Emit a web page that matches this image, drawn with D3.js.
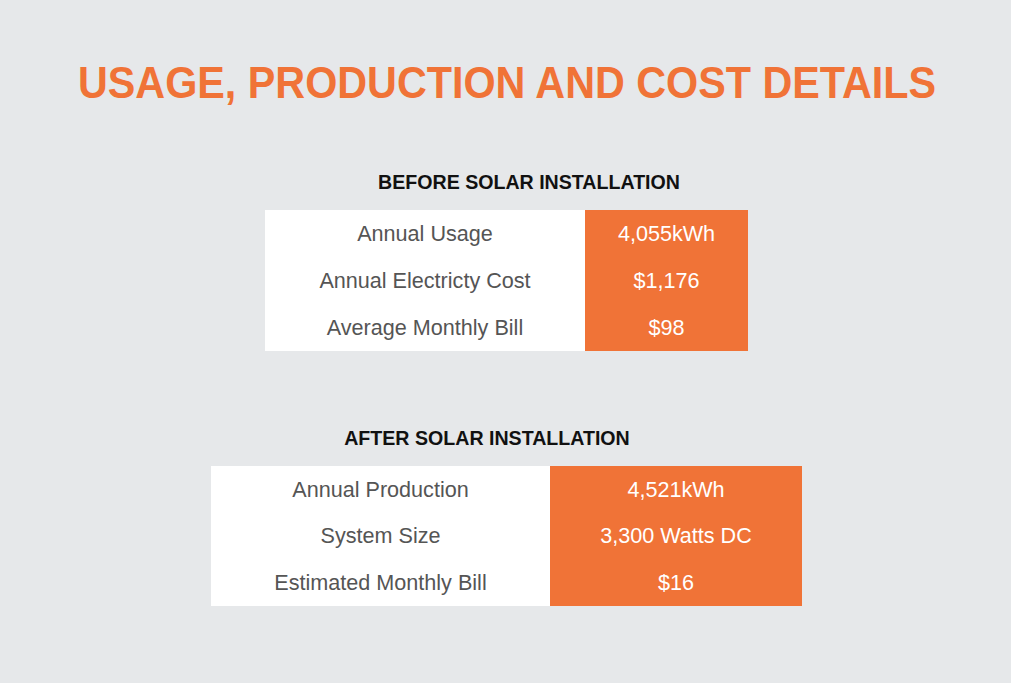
<!DOCTYPE html>
<html>
<head>
<meta charset="utf-8">
<script src="https://cdn.jsdelivr.net/npm/d3@7"></script>
<style>
  html, body { margin: 0; padding: 0; background: #e6e8ea; }
  svg { display: block; font-family: "Liberation Sans", Arial, sans-serif; }
</style>
</head>
<body>
<script>
var title = 'USAGE, PRODUCTION AND COST DETAILS';

var beforeTitle = 'BEFORE SOLAR INSTALLATION';
var beforeLabels = ['Annual Usage', 'Annual Electricty Cost', 'Average Monthly Bill'];
var beforeValues = ['4,055kWh', '$1,176', '$98'];

var afterTitle = 'AFTER SOLAR INSTALLATION';
var afterLabels = ['Annual Production', 'System Size', 'Estimated Monthly Bill'];
var afterValues = ['4,521kWh', '3,300 Watts DC', '$16'];

var width = 1011;
var height = 683;
var orange = '#f07337';

var svg = d3.select('body').append('svg')
  .attr('width', width)
  .attr('height', height);

svg.append('rect')
  .attr('width', width)
  .attr('height', height)
  .attr('fill', '#e6e8ea');

svg.append('text')
  .attr('x', 507)
  .attr('y', 98)
  .attr('text-anchor', 'middle')
  .attr('fill', orange)
  .attr('font-size', 44)
  .attr('font-weight', 'bold')
  .attr('textLength', 858)
  .attr('lengthAdjust', 'spacingAndGlyphs')
  .text(title);

// draw one table block: heading, white label column, orange value column
function drawTable(opts) {
  var rows = d3.range(opts.labels.length);

  var y = d3.scaleBand()
    .domain(rows)
    .range([opts.top, opts.bottom]);

  var g = svg.append('g');

  g.append('text')
    .attr('x', opts.headX)
    .attr('y', opts.top - 21)
    .attr('text-anchor', 'middle')
    .attr('fill', '#111')
    .attr('font-size', 19.6)
    .attr('font-weight', 'bold')
    .text(opts.heading);

  g.append('rect')
    .attr('x', opts.left)
    .attr('y', opts.top)
    .attr('width', opts.split - opts.left)
    .attr('height', opts.bottom - opts.top)
    .attr('fill', '#fff');

  g.append('rect')
    .attr('x', opts.split)
    .attr('y', opts.top)
    .attr('width', opts.right - opts.split)
    .attr('height', opts.bottom - opts.top)
    .attr('fill', orange);

  g.selectAll('text.label')
    .data(rows)
    .enter().append('text')
    .attr('class', 'label')
    .attr('x', (opts.left + opts.split) / 2)
    .attr('y', function (d) { return y(d) + y.bandwidth() / 2; })
    .attr('dy', '0.34em')
    .attr('text-anchor', 'middle')
    .attr('fill', '#555')
    .attr('font-size', 21.6)
    .text(function (d) { return opts.labels[d]; });

  g.selectAll('text.value')
    .data(rows)
    .enter().append('text')
    .attr('class', 'value')
    .attr('x', (opts.split + opts.right) / 2)
    .attr('y', function (d) { return y(d) + y.bandwidth() / 2; })
    .attr('dy', '0.34em')
    .attr('text-anchor', 'middle')
    .attr('fill', '#fff')
    .attr('font-size', 21.6)
    .text(function (d) { return opts.values[d]; });
}

drawTable({
  heading: beforeTitle, labels: beforeLabels, values: beforeValues,
  headX: 529, left: 265, split: 585, right: 748, top: 210, bottom: 351
});

drawTable({
  heading: afterTitle, labels: afterLabels, values: afterValues,
  headX: 487, left: 211, split: 550, right: 802, top: 466, bottom: 606
});
</script>
</body>
</html>
